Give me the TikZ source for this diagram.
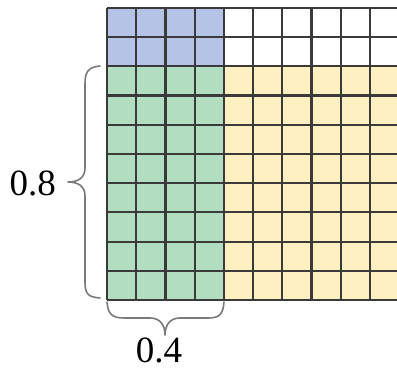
\documentclass[tikz,border=0pt]{standalone}
\usepackage{fontspec}
\setmainfont{Liberation Serif}
\definecolor{cblue}{HTML}{B4C3E6}
\definecolor{cgreen}{HTML}{B2DDC0}
\definecolor{cyellow}{HTML}{FFF0C2}
\definecolor{gline}{HTML}{3A3A3A}
\definecolor{bracec}{HTML}{7A7A7A}
\tikzset{
  gridline/.style={draw=gline, line width=2.2pt},
  bracepath/.style={draw=bracec, line width=1.6pt, line cap=round, line join=round},
  lab/.style={font=\fontsize{37}{37}\selectfont, inner sep=0pt}
}
\begin{document}
\begin{tikzpicture}[x=1pt,y=-1pt]
\useasboundingbox (0,0) rectangle (397,369);
\clip (0,0) rectangle (397,369);
\def\cs{29.2}
% fills
\fill[cblue] (107,8) rectangle ({107+4*\cs},{8+2*\cs});
\fill[white] ({107+4*\cs},8) rectangle ({107+10*\cs},{8+2*\cs});
\fill[cgreen] (107,{8+2*\cs}) rectangle ({107+4*\cs},{8+10*\cs});
\fill[cyellow] ({107+4*\cs},{8+2*\cs}) rectangle ({107+10*\cs},{8+10*\cs});
% grid lines
\foreach \i in {0,...,10} {
  \draw[gridline] ({107+\i*\cs},8) -- ({107+\i*\cs},{8+10*\cs});
  \draw[gridline] (107,{8+\i*\cs}) -- ({107+10*\cs},{8+\i*\cs});
}
% left brace
\coordinate (lt) at (100,66);
\coordinate (lb) at (100,298);
\coordinate (ltip) at (68,182);
\draw[bracepath] (lt) .. controls (88,67) and (85,72) .. (85,84)
  -- (85,168) .. controls (85,178) and (78,182) .. (ltip)
  .. controls (78,182) and (85,186) .. (85,196)
  -- (85,282) .. controls (85,294) and (88,297) .. (lb);
\node[lab, anchor=east] (l08) at (56,183) {0.8};
% bottom brace
\coordinate (bl) at (107,302);
\coordinate (br) at (224,302);
\coordinate (btip) at (165,335);
\draw[bracepath] (bl) .. controls (108,314) and (112,318) .. (124,318)
  -- (150,318) .. controls (160,318) and (165,325) .. (btip)
  .. controls (165,325) and (170,318) .. (180,318)
  -- (208,318) .. controls (220,318) and (223,314) .. (br);
\node[lab, anchor=base] (l04) at (159,362) {0.4};
\end{tikzpicture}
\end{document}
